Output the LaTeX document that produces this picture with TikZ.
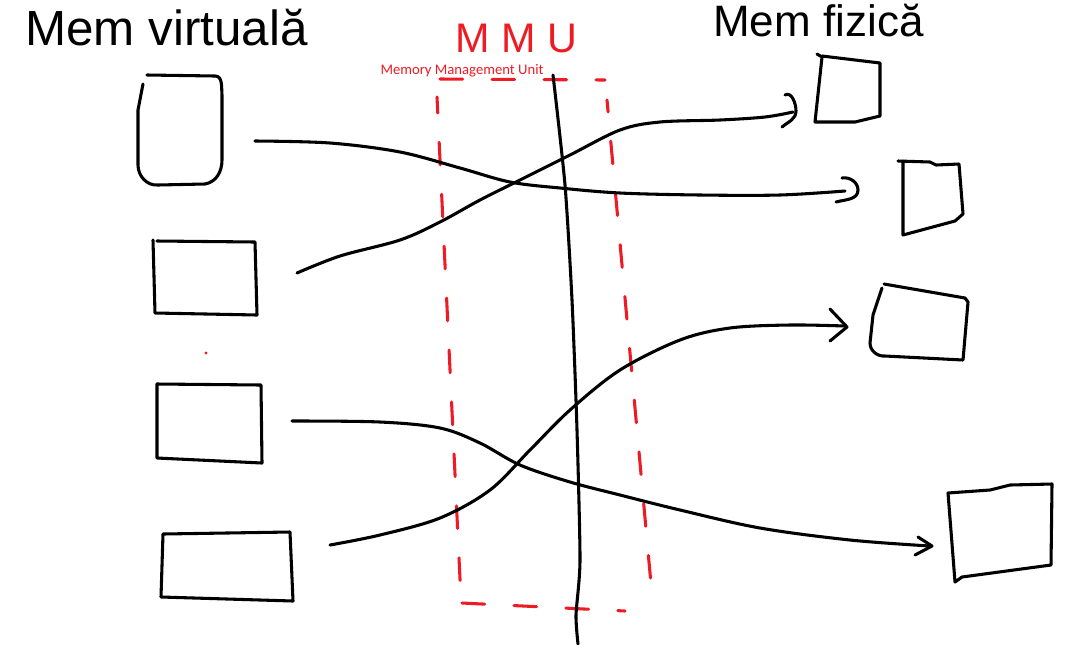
\documentclass[tikz,border=0pt]{standalone}
\usepackage{fontspec}
\setmainfont{Liberation Sans}
\newfontfamily\calib{Carlito}
\newfontfamily\spacedfont[LetterSpace=28]{Liberation Sans}
\definecolor{pred}{HTML}{ED1C24}
\begin{document}
\begin{tikzpicture}[x=0.75pt,y=-0.75pt,
  pen/.style={line width=2.3pt, line cap=round, line join=round, black},
  rpen/.style={line width=2.3pt, line cap=round, pred, dash pattern=on 17pt off 22pt},
  link/.style={pen, smooth, tension=0.55},
  title/.style={anchor=base west, inner sep=0pt, font=\fontsize{37}{40}\selectfont}]
\useasboundingbox (0,0) rectangle (1080,644);

% titles
\node[title] (tv) at (25,45) {Mem virtuală};
\node[title, font=\fontsize{33}{36}\selectfont] (tf) at (713,36) {Mem fizică};
\node[anchor=base west, inner sep=0pt, text=pred, font=\spacedfont\fontsize{31}{33}\selectfont] (mmu) at (455,52) {MMU};
\node[anchor=base, inner sep=0pt, text=pred, font=\calib\fontsize{11}{12}\selectfont] (mmul) at (462,74) {Memory Management Unit};

% MMU dashed box
\draw[rpen] (440,79) -- (605,80);
\draw[rpen, dash phase=5pt] (437,97) -- (461,600);
\draw[rpen, dash phase=8pt] (607,100) -- (652,595);
\draw[rpen] (462,603) -- (625,611);

% black vertical line
\draw[pen] plot[smooth, tension=0.4] coordinates {(553,75) (565,185) (572,300) (577,430) (580,560) (576,615) (578,644)};

% virtual memory pages
\draw[pen] (147,75) -- (215,76) to[out=0,in=95] (222,95) -- (222,160) to[out=-90,in=10] (205,184) -- (158,185) to[out=185,in=-90] (138,165) -- (138,110) -- (143,84);
\draw[pen] (153,240) -- (155,313) -- (257,315) -- (255,242) -- (157,241);
\draw[pen] (157,384) -- (157,458) -- (262,463) -- (261,385) -- cycle;
\draw[pen] (163,534) -- (161,597) -- (293,601) -- (290,532) -- cycle;

% physical memory frames
\draw[pen] (817,54) -- (822,57) -- (815,122) -- (855,122) -- (880,116) -- (880,63) -- (822,56);
\draw[pen] (898,161) -- (930,162) -- (936,165) -- (959,164) -- (963,214) -- (955,221) -- (903,235) -- (903,161);
\draw[pen] (884,284) -- (965,298) -- (968,302) -- (963,360) -- (885,356) to[out=185,in=-90] (870,343) -- (873,315) -- (882,288);
\draw[pen] (948,493) -- (990,490) -- (1010,485) -- (1052,484) -- (1051,565) -- (962,577) -- (955,582) -- cycle;

% stray dot
\fill[pred] (206,353) circle (1.2pt);

% anchor coordinates for links
\coordinate (s1) at (255,141); \coordinate (e1) at (845,191);
\coordinate (s2) at (297,273); \coordinate (e2) at (793,112);
\coordinate (s3) at (292,421); \coordinate (e3) at (930,546);
\coordinate (s4) at (330,545); \coordinate (e4) at (845,326);

% links
\draw[link] plot coordinates {(s1) (330,143) (400,152) (460,168) (510,182) (560,188) (620,193) (700,195) (780,195) (e1)};
\draw[link] plot coordinates {(s2) (340,256) (400,240) (440,222) (480,200) (520,180) (570,155) (620,130) (660,122) (720,120) (765,117) (e2)};
\draw[link] plot coordinates {(s3) (380,422) (440,428) (480,443) (520,465) (570,482) (620,495) (680,510) (760,528) (850,540) (e3)};
\draw[link] plot coordinates {(s4) (380,535) (440,518) (490,490) (530,450) (570,410) (620,370) (680,340) (730,328) (790,325) (e4)};

% hand-drawn arrowheads
\draw[pen] (842,178) to[out=10,in=90] (858,190) to[out=-90,in=15] (836,202);
\draw[pen] (785,95) to[out=30,in=90] (796,111) to[out=-90,in=40] (782,127);
\draw[pen] (918,537) -- (932,546) -- (915,555);
\draw[pen] (830,309) -- (847,327) -- (830,341);
\end{tikzpicture}
\end{document}
